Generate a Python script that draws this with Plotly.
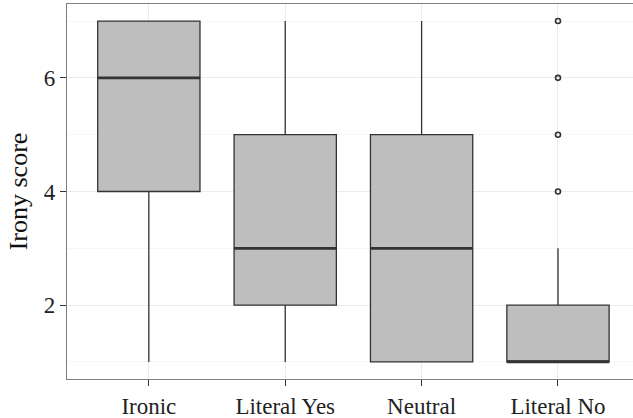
import plotly.graph_objects as go

categories = ["Ironic", "Literal Yes", "Neutral", "Literal No"]
lower_whisker = [1, 1, 1, 1]
q1 = [4, 2, 1, 1]
median = [6, 3, 3, 1]
q3 = [7, 5, 5, 2]
upper_whisker = [7, 7, 7, 3]
outlier_cat = ["Literal No", "Literal No", "Literal No", "Literal No"]
outlier_val = [4, 5, 6, 7]
y_ticks = [2, 4, 6]
y_minor = [1, 3, 5, 7]

pos = list(range(len(categories)))
half = 0.375
FONT = "Liberation Serif, Times New Roman, DejaVu Serif, serif"
DARK = "#333333"

fig = go.Figure()
fig.add_trace(go.Box(
    x=pos, q1=q1, median=median, q3=q3,
    lowerfence=lower_whisker, upperfence=upper_whisker,
    width=2 * half, whiskerwidth=0, boxpoints=False,
    fillcolor="#bebebe", line=dict(color=DARK, width=1.3),
    showlegend=False, hoverinfo="skip",
))
mx, my = [], []
for p, m in zip(pos, median):
    mx += [p - half, p + half, None]
    my += [m, m, None]
fig.add_trace(go.Scatter(x=mx, y=my, mode="lines",
                         line=dict(color=DARK, width=2.8),
                         showlegend=False, hoverinfo="skip"))
ox = [categories.index(c) for c in outlier_cat]
fig.add_trace(go.Scatter(x=ox, y=outlier_val, mode="markers",
                         marker=dict(symbol="circle-open", size=5,
                                     color=DARK, line=dict(width=1.6, color=DARK)),
                         showlegend=False, hoverinfo="skip"))

fig.update_layout(
    width=633, height=418,
    margin=dict(l=67, r=0, t=4, b=39, autoexpand=False),
    paper_bgcolor="white", plot_bgcolor="white",
    font=dict(family=FONT, size=23, color="#222222"),
    xaxis=dict(
        range=[-0.6, 3.55], tickmode="array", tickvals=pos, ticktext=categories,
        showgrid=True, gridcolor="#ebebeb", gridwidth=1,
        showline=True, mirror=True, linecolor="#7f7f7f", linewidth=1.3,
        ticks="outside", ticklen=6, tickcolor=DARK, tickwidth=1.3,
        zeroline=False, automargin=False,
        tickfont=dict(family=FONT, size=23, color="#222222"),
    ),
    yaxis=dict(
        range=[0.7, 7.3], tickmode="array", tickvals=y_ticks,
        showgrid=True, gridcolor="#ebebeb", gridwidth=1,
        minor=dict(tickmode="array", tickvals=y_minor, showgrid=True,
                   gridcolor="#f6f6f6", gridwidth=1, ticklen=0),
        showline=True, mirror=False, linecolor="#7f7f7f", linewidth=1.3,
        ticks="outside", ticklen=6, tickcolor=DARK, tickwidth=1.3,
        zeroline=False, automargin=False,
        tickfont=dict(family=FONT, size=23, color="#222222"),
        title=dict(text="Irony score", font=dict(family=FONT, size=26, color="#111111"),
                   standoff=8),
    ),
)
fig.write_html("out.html", config={"displayModeBar": False},
               post_script="document.body.style.margin='0';document.body.style.overflow='hidden';")
